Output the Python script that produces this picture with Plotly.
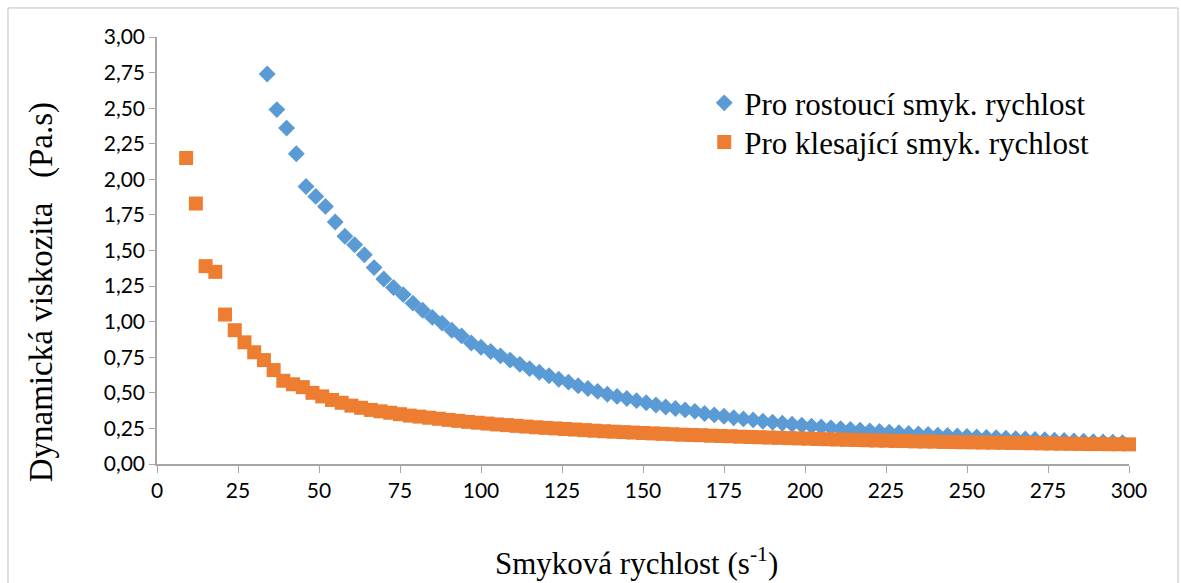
import plotly.graph_objects as go

# Shear rate (1/s) and dynamic viscosity (Pa.s) for the rising ramp
rate_up = [34, 37, 40, 43, 46, 49, 52, 55, 58, 61, 64, 67, 70, 73, 76, 79, 82, 85, 88, 91,
           94, 97, 100, 103, 106, 109, 112, 115, 118, 121, 124, 127, 130, 133, 136, 139, 142,
           145, 148, 151, 154, 157, 160, 163, 166, 169, 172, 175, 178, 181, 184, 187, 190,
           193, 196, 199, 202, 205, 208, 211, 214, 217, 220, 223, 226, 229, 232, 235, 238,
           241, 244, 247, 250, 253, 256, 259, 262, 265, 268, 271, 274, 277, 280, 283, 286,
           289, 292, 295, 298, 301]
visc_up = [2.74, 2.49, 2.36, 2.18, 1.95, 1.88, 1.81, 1.70, 1.60, 1.54, 1.47, 1.38, 1.30, 1.24,
           1.19, 1.13, 1.08, 1.03, 0.99, 0.94, 0.90, 0.85, 0.82, 0.79, 0.76, 0.73, 0.70, 0.67,
           0.645, 0.62, 0.595, 0.575, 0.55, 0.53, 0.51, 0.49, 0.475, 0.46, 0.445, 0.43, 0.415,
           0.40, 0.39, 0.38, 0.37, 0.355, 0.345, 0.335, 0.325, 0.317, 0.31, 0.30, 0.293, 0.286,
           0.279, 0.272, 0.266, 0.26, 0.254, 0.248, 0.243, 0.238, 0.233, 0.228, 0.224, 0.22,
           0.215, 0.211, 0.207, 0.203, 0.20, 0.197, 0.194, 0.19, 0.187, 0.184, 0.181, 0.178,
           0.176, 0.173, 0.17, 0.167, 0.165, 0.162, 0.16, 0.157, 0.155, 0.153, 0.15, 0.148]

# Shear rate (1/s) and dynamic viscosity (Pa.s) for the falling ramp
rate_down = [9, 12, 15, 18, 21, 24, 27, 30, 33, 36, 39, 42, 45, 48, 51, 54, 57, 60, 63, 66,
             69, 72, 75, 78, 81, 84, 87, 90, 93, 96, 99, 102, 105, 108, 111, 114, 117, 120,
             123, 126, 129, 132, 135, 138, 141, 144, 147, 150, 153, 156, 159, 162, 165, 168,
             171, 174, 177, 180, 183, 186, 189, 192, 195, 198, 201, 204, 207, 210, 213, 216,
             219, 222, 225, 228, 231, 234, 237, 240, 243, 246, 249, 252, 255, 258, 261, 264,
             267, 270, 273, 276, 279, 282, 285, 288, 291, 294, 297, 300]
visc_down = [2.15, 1.83, 1.39, 1.35, 1.05, 0.94, 0.855, 0.785, 0.73, 0.66, 0.585, 0.56, 0.54,
             0.50, 0.475, 0.45, 0.43, 0.41, 0.395, 0.38, 0.37, 0.36, 0.35, 0.34, 0.333, 0.325,
             0.318, 0.31, 0.303, 0.296, 0.29, 0.284, 0.278, 0.273, 0.268, 0.263, 0.258, 0.254,
             0.25, 0.246, 0.242, 0.238, 0.234, 0.23, 0.227, 0.224, 0.221, 0.218, 0.215, 0.212,
             0.209, 0.206, 0.204, 0.202, 0.199, 0.197, 0.195, 0.192, 0.19, 0.188, 0.186, 0.184,
             0.182, 0.18, 0.178, 0.176, 0.174, 0.172, 0.17, 0.169, 0.167, 0.165, 0.164, 0.162,
             0.161, 0.159, 0.158, 0.157, 0.155, 0.154, 0.153, 0.152, 0.151, 0.15, 0.149, 0.148,
             0.147, 0.146, 0.145, 0.144, 0.143, 0.142, 0.141, 0.14, 0.14, 0.139, 0.139, 0.138]

x_ticks = [0, 25, 50, 75, 100, 125, 150, 175, 200, 225, 250, 275, 300]
y_ticks = [0, 0.25, 0.5, 0.75, 1.0, 1.25, 1.5, 1.75, 2.0, 2.25, 2.5, 2.75, 3.0]

SERIF = "Liberation Serif, Times New Roman, serif"
SANS = "Lato, Carlito, Calibri, sans-serif"
AXIS_GREY = "#a6a6a6"

fig = go.Figure()
fig.add_trace(go.Scatter(
    x=rate_up, y=visc_up, mode="markers", name="Pro rostoucí smyk. rychlost",
    marker=dict(symbol="diamond", size=13, color="#5B9BD5", line=dict(width=0)),
    cliponaxis=False, legend="legend",
))
fig.add_trace(go.Scatter(
    x=rate_down, y=visc_down, mode="markers", name="Pro klesající smyk. rychlost",
    marker=dict(symbol="square", size=14, color="#ED7D31", line=dict(width=0)),
    cliponaxis=False, legend="legend2",
))

legend_style = dict(
    xanchor="left", yanchor="middle",
    font=dict(family=SERIF, size=31, color="black"),
    bgcolor="rgba(0,0,0,0)",
)

fig.update_layout(
    width=1181, height=583,
    margin=dict(l=157, r=52, t=37, b=119),
    paper_bgcolor="white", plot_bgcolor="white",
    separators=", ",
    showlegend=True,
    legend=dict(x=0.563, y=0.845, **legend_style),
    legend2=dict(x=0.563, y=0.753, **legend_style),
    xaxis=dict(
        range=[0, 300], tickvals=x_ticks, ticks="outside", ticklen=7, tickcolor=AXIS_GREY,
        showline=True, linecolor=AXIS_GREY, linewidth=1.5, showgrid=False, zeroline=False,
        tickfont=dict(family=SANS, size=21, color="black"),
    ),
    yaxis=dict(
        range=[0, 3.0], tickvals=y_ticks, tickformat=".2f", ticks="outside", ticklen=6,
        tickcolor=AXIS_GREY, showline=True, linecolor=AXIS_GREY, linewidth=1.5,
        showgrid=False, zeroline=False,
        tickfont=dict(family=SANS, size=21, color="black"),
    ),
    annotations=[
        dict(text="Dynamická viskozita\u00a0\u00a0 (Pa.s)", xref="paper", yref="paper",
             x=-0.118, y=0.403, textangle=-90, showarrow=False,
             xanchor="center", yanchor="middle",
             font=dict(family=SERIF, size=33, color="black")),
        dict(text="Smyková rychlost (s<sup>-1</sup>)", xref="paper", yref="paper",
             x=0.493, y=-0.228, showarrow=False, xanchor="center", yanchor="middle",
             font=dict(family=SERIF, size=31, color="black")),
    ],
    shapes=[
        dict(type="rect", xref="paper", yref="paper", x0=-0.1533, x1=1.0504,
             y0=-0.5, y1=1.068, line=dict(color="#bfbfbf", width=1), layer="below"),
    ],
)

fig.write_html("out.html")
